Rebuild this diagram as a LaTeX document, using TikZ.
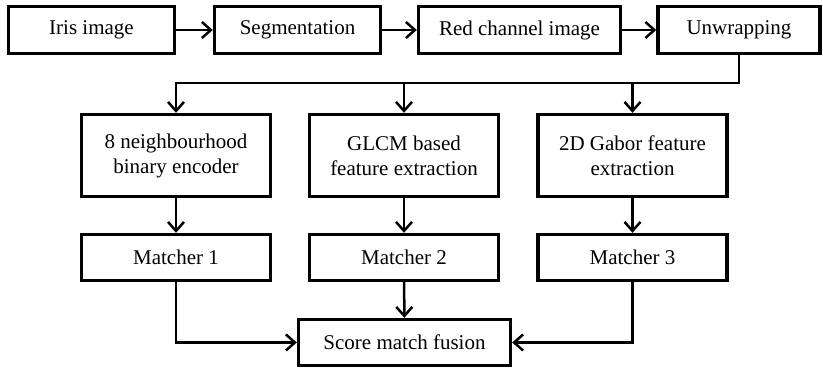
\documentclass[tikz,border=0pt]{standalone}
\usepackage{fontspec}
\setmainfont{Liberation Serif}
\usetikzlibrary{arrows.meta}
\begin{document}
\begin{tikzpicture}[x=1pt,y=-1pt,
  box/.style={draw=black,line width=3.4pt,rectangle,inner sep=0pt,align=center,
    font=\fontsize{21}{25}\selectfont,text=black},
  arr/.style={draw=black,line width=2.5pt,-{Straight Barb[length=9pt,width=16pt,line width=2.5pt]}}]
\useasboundingbox (0,0) rectangle (823,370);
% top row
\node[box,minimum width=166pt,minimum height=47pt] (iris) at (91.5,30) {Iris image};
\node[box,minimum width=166pt,minimum height=47pt] (seg) at (297.5,30) {Segmentation};
\node[box,minimum width=202pt,minimum height=47pt] (red) at (519.5,30) {Red channel image};
\node[box,minimum width=162pt,minimum height=47pt] (unw) at (739,30) {Unwrapping};
% middle row
\node[box,minimum width=189pt,minimum height=82pt] (b1) at (176,155.5) {8 neighbourhood\\binary encoder};
\node[box,minimum width=189pt,minimum height=82pt] (b2) at (404,155.5) {GLCM based\\feature extraction};
\node[box,minimum width=189pt,minimum height=82pt] (b3) at (632.5,155.5) {2D Gabor feature\\extraction};
% matchers
\node[box,minimum width=189pt,minimum height=46pt] (m1) at (176,257.5) {Matcher 1};
\node[box,minimum width=189pt,minimum height=46pt] (m2) at (404,257.5) {Matcher 2};
\node[box,minimum width=189pt,minimum height=46pt] (m3) at (632.5,257.5) {Matcher 3};
% fusion
\node[box,minimum width=212pt,minimum height=46pt] (fus) at (404.5,342.5) {Score match fusion};
% connectors
\draw[arr] (iris) -- (seg);
\draw[arr] (seg) -- (red);
\draw[arr] (red) -- (unw);
\coordinate (j) at (739,83);
\draw[arr] (unw.south) -- (j) -| (b1.north);
\draw[arr] (b2.north |- j) -- (b2.north);
\draw[arr] (b3.north |- j) -- (b3.north);
\draw[arr] (b1) -- (m1);
\draw[arr] (b2) -- (m2);
\draw[arr] (b3) -- (m3);
\draw[arr] (m2) -- (fus);
\draw[arr] (m1.south) |- (fus.west);
\draw[arr] (m3.south) |- (fus.east);
\end{tikzpicture}
\end{document}
